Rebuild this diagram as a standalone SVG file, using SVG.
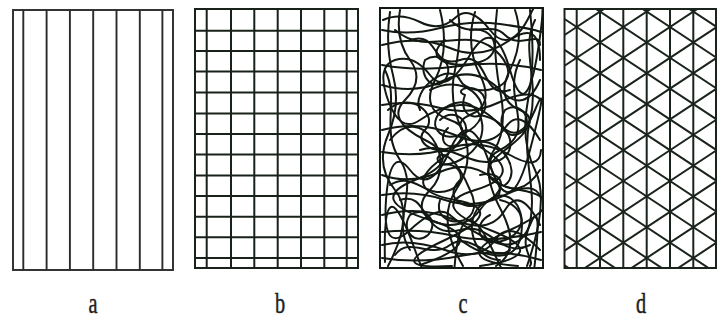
<svg xmlns="http://www.w3.org/2000/svg" width="719" height="320" viewBox="0 0 719 320">
<defs>
<style>
.ln{stroke:#2b2b2b;stroke-width:1.9;fill:none}
.lb{stroke:#18221a;stroke-width:2;fill:none}
.lc{stroke:#121812;stroke-width:2;fill:none;stroke-linecap:round}
.ld{stroke:#1a241c;stroke-width:2;fill:none}
.lbl{font-family:"Liberation Serif","Times New Roman",serif;font-size:29px;fill:#1e1e1e;stroke:#1e1e1e;stroke-width:0.5}
</style>
<clipPath id="clipD"><rect x="564.5" y="9" width="151.5" height="259"/></clipPath>
<clipPath id="clipC"><rect x="380" y="8" width="163" height="260"/></clipPath>
</defs>
<rect width="719" height="320" fill="#fff"/>

<g id="panel-a">
<rect class="ln" x="13" y="10" width="160" height="260"/>
<path class="ln" d="M23.3,10V270M46.6,10V270M69.9,10V270M93.2,10V270M116.5,10V270M139.8,10V270M162.4,10V270"/>
</g>

<g id="panel-b">
<rect class="lb" x="195" y="9" width="163" height="259"/>
<path class="lb" d="M206.7,9V268M231,9V268M254.3,9V268M277.7,9V268M301,9V268M324.3,9V268M346.7,9V268"/>
<path class="lb" d="M195,30.7H358M195,51H358M195,71.5H358M195,92.5H358M195,113.5H358M195,134H358M195,154.5H358M195,175.5H358M195,196H358M195,216.7H358M195,237.3H358M195,258H358"/>
</g>

<g id="panel-c">
<rect class="lc" x="380" y="8" width="163" height="260"/>
<g clip-path="url(#clipC)">
<path class="lc" d="M383,20 Q400,12 420,22 T455,18 T490,30 T530,15 T538,50 T510,70 T470,55 T430,75 T395,60 T388,100 T420,120 T460,105 T500,125 T535,110 T530,150 T490,165 T450,150 T410,170 T386,200 T410,230 T450,215 T490,240 T530,225 T535,262 T495,255 T455,262 T415,250 T385,262"/>
<path class="lc" d="M400,10 Q395,40 410,60 T405,100 T425,140 T415,180 T430,220 T420,265"/>
<path class="lc" d="M440,10 Q450,50 435,80 T450,120 T440,160 T455,200 T445,240 T452,266"/>
<path class="lc" d="M475,12 Q465,45 480,75 T470,115 T485,150 T475,190 T490,230 T480,266"/>
<path class="lc" d="M515,10 Q525,40 510,70 T520,110 T505,150 T520,190 T510,230 T518,266"/>
<path class="lc" d="M390,12 Q385,45 393,75 T388,135 T395,190 T388,266"/>
<path class="lc" d="M458,10 Q462,40 455,70 T462,130 T456,190 T463,266"/>
<path class="lc" d="M497,10 Q492,50 500,90 T494,150 T501,210 T496,266"/>
<path class="lc" d="M530,10 Q536,60 528,100 T535,170 T527,266"/>
<path class="lc" d="M382,45 Q420,35 450,48 T510,40 T540,60"/>
<path class="lc" d="M382,85 Q415,95 445,80 T500,90 T540,80"/>
<path class="lc" d="M382,130 Q420,120 455,135 T505,128 T540,140"/>
<path class="lc" d="M382,175 Q410,185 440,172 T495,180 T540,170"/>
<path class="lc" d="M382,215 Q420,205 455,220 T505,210 T540,225"/>
<path class="lc" d="M382,245 Q410,238 445,250 T495,240 T540,250"/>
<path class="lc" d="M382,30 Q410,36 440,28 T500,24 T541,32"/>
<path class="lc" d="M382,65 Q420,72 460,66 T541,70"/>
<path class="lc" d="M382,105 Q410,100 440,108 T500,102 T541,100"/>
<path class="lc" d="M382,152 Q420,158 450,148 T510,155 T541,150"/>
<path class="lc" d="M382,195 Q415,190 445,200 T505,195 T541,198"/>
<path class="lc" d="M382,232 Q420,228 455,236 T541,232"/>
<path class="lc" d="M382,258 Q420,264 460,256 T541,260"/>
<path class="lc" d="M430,90 C470,70 500,110 470,130 C440,150 420,120 450,105 C480,90 500,140 460,160 C420,180 440,120 470,190 C490,230 430,230 440,200"/>
<path class="lc" d="M390,140 C420,100 460,160 430,190 C400,220 460,240 480,210 C500,180 530,200 520,240 C510,270 470,250 455,235"/>
<path class="lc" d="M395,30 C430,60 470,20 500,55 C530,90 470,100 460,80 C450,60 410,90 420,110"/>
<path class="lc" d="M520,60 C500,100 540,130 500,150 C470,165 520,190 490,200 C460,210 470,260 500,260"/>
<path class="lc" d="M385,70 C400,100 380,130 400,160 C420,190 390,220 410,250"/>
<path class="lc" d="M535,20 C520,50 540,80 530,120 C520,160 540,190 528,230 C520,250 535,260 530,266"/>
<path class="lc" d="M410,40 C440,30 430,70 460,60 C490,50 480,100 510,90"/>
<path class="lc" d="M420,150 C450,140 470,170 500,160 C520,150 510,120 480,115"/>
<path class="lc" d="M400,200 C430,190 420,240 460,230 C490,220 500,260 530,245"/>
<path class="lc" d="M450,20 C470,40 490,20 505,35 C520,50 540,30 540,45"/>
<path class="lc" d="M460,180 C440,200 470,215 490,200 C510,185 500,170 480,175"/>
<path class="lc" d="M388,110 C410,90 440,115 425,130 C410,145 445,160 470,145 C495,130 525,170 505,185"/>
<path class="lc" d="M445,40 C420,60 455,70 480,62 C505,55 495,25 470,30"/>
<path class="lc" d="M390,185 C415,170 425,200 450,190 C470,182 460,160 440,165"/>
<path class="lc" d="M500,200 C525,205 530,230 505,240 C480,250 470,225 490,215"/>
<path class="lc" d="M395,255 C410,235 430,260 450,245 C470,230 490,265 510,250"/>
<path class="lc" d="M465,95 C455,120 490,125 485,100 C480,80 450,90 465,95"/>
<path class="lc" d="M440,120 C455,105 475,125 462,140 C450,155 435,140 448,128"/>
<path class="lc" d="M425,60 C440,50 455,65 445,80 C435,92 418,78 425,60"/>
<path class="lc" d="M505,110 C520,100 535,120 522,132 C508,142 495,125 505,110"/>
<path class="lc" d="M410,215 C425,205 440,222 428,235 C415,246 400,230 410,215"/>
</g>
</g>

<g id="panel-d">
<rect class="ld" x="564.5" y="9" width="151.5" height="259"/>
<path class="ld" d="M576.7,9V268M600,9V268M623.3,9V268M646.7,9V268M670,9V268M693.3,9V268"/>
<g clip-path="url(#clipD)">
<path class="ld" d="M560,-76.4L720,29.2M560,-45.6L720,60M560,-14.8L720,90.8M560,16L720,121.6M560,46.8L720,152.4M560,77.6L720,183.2M560,108.4L720,214M560,139.2L720,244.8M560,170L720,275.6M560,200.8L720,306.4M560,231.6L720,337.2M560,262.4L720,368"/>
<path class="ld" d="M560,38L720,-67.6M560,68.8L720,-36.8M560,99.6L720,-6M560,130.4L720,24.8M560,161.2L720,55.6M560,192L720,86.4M560,222.8L720,117.2M560,253.6L720,148M560,284.4L720,178.8M560,315.2L720,209.6M560,346L720,240.4"/>
</g>
</g>

<g id="labels">
<text class="lbl" text-anchor="middle" transform="translate(93,313) scale(0.7,1)">a</text>
<text class="lbl" text-anchor="middle" transform="translate(280,313) scale(0.7,1)">b</text>
<text class="lbl" text-anchor="middle" transform="translate(463,313) scale(0.7,1)">c</text>
<text class="lbl" text-anchor="middle" transform="translate(641,313) scale(0.7,1)">d</text>
</g>
</svg>
